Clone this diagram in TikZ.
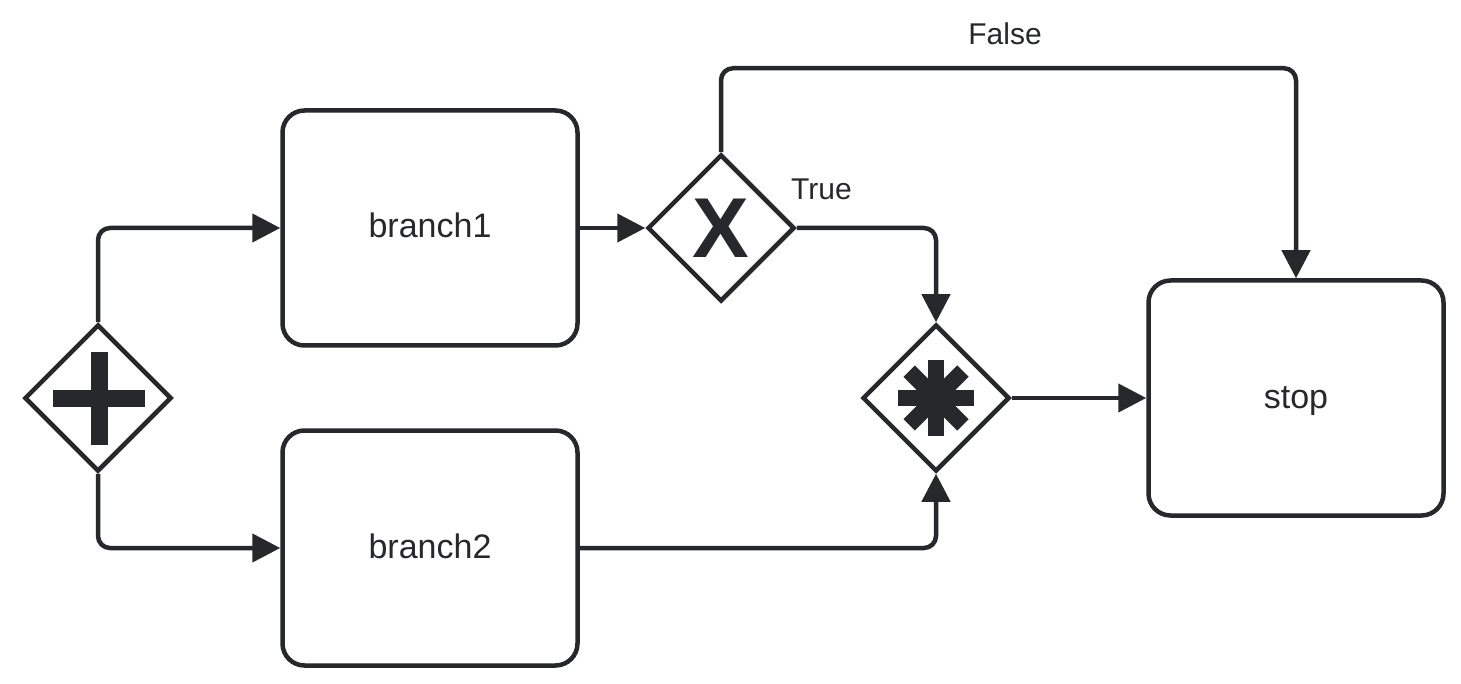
\documentclass[tikz,border=0pt]{standalone}
\usepackage{fontspec}
\setmainfont{Liberation Sans}
\usetikzlibrary{arrows.meta,shapes.geometric}
\definecolor{ink}{HTML}{27282C}
\begin{document}
\begin{tikzpicture}[x=1pt,y=-1pt,
  task/.style={draw=ink, line width=4.5pt, rounded corners=22pt, minimum width=295pt, minimum height=235pt, inner sep=0pt, font=\fontsize{34}{40}\selectfont, text=ink, text height=20pt, text depth=0pt},
  gate/.style={draw=ink, line width=4.5pt, diamond, minimum width=147pt, minimum height=147pt, inner sep=0pt, aspect=1, fill=white},
  flow/.style={draw=ink, line width=4.5pt, rounded corners=12pt, -{Triangle[length=28pt,width=28pt]}},
  lbl/.style={text=ink, font=\fontsize{30}{34}\selectfont, inner sep=0pt, text height=20pt, text depth=0pt}
]
\path[fill=white] (0,0) rectangle (1461,684);
\useasboundingbox (0,0) rectangle (1461,684);

\node[gate] (pg) at (98,398) {};
\node[task] (b1) at (430,228) {branch1};
\node[task] (b2) at (430,548) {branch2};
\node[gate] (xg) at (721,228) {};
\node[gate] (cg) at (936,398) {};
\node[task] (stop) at (1296,398) {stop};

% icons
\fill[ink] (53,389.5) rectangle (145,406.5);
\fill[ink] (90.5,352) rectangle (107.5,445);
\node[text=ink, inner sep=0pt, font=\fontsize{85}{85}\selectfont\bfseries] (xicon) at (721,228) {X};
\foreach \a in {0,45,90,135}
  \fill[ink, rotate around={\a:(936,398)}] (898,390) rectangle (974,406);

% flows
\draw[flow] (pg.north) |- (b1.west);
\draw[flow] (pg.south) |- (b2.west);
\draw[flow] (b1.east) -- (xg.west);
\draw[flow] (xg.east) -| (cg.north);
\draw[flow] (xg.north) -- ++(0,-84) -| (stop.north);
\draw[flow] (b2.east) -| (cg.south);
\draw[flow] (cg.east) -- (stop.west);

\node[lbl, anchor=west] (ltrue) at (791,190) {True};
\node[lbl] (lfalse) at (1005,35) {False};
\end{tikzpicture}
\end{document}
